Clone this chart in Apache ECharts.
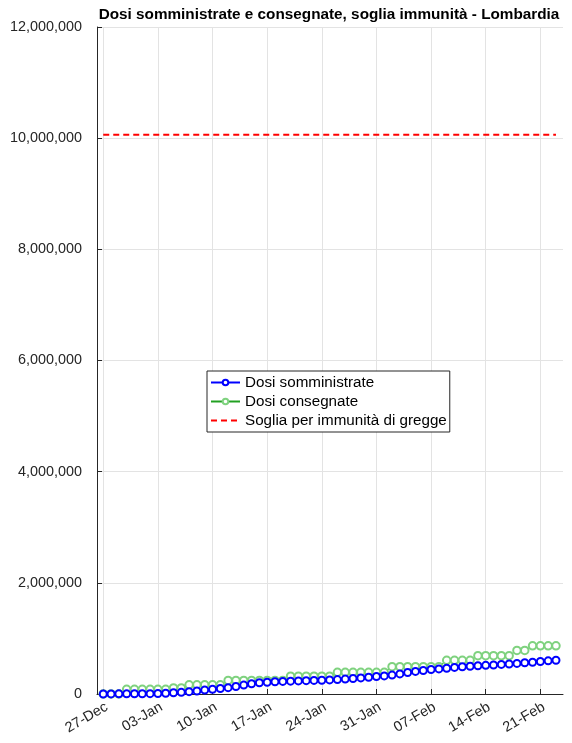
<!DOCTYPE html>
<html><head><meta charset="utf-8">
<script src="https://cdn.jsdelivr.net/npm/echarts@6/dist/echarts.min.js"></script>
<style>html,body{margin:0;padding:0;background:#fff}#c{width:572px;height:743px}</style>
</head><body><div id="c"></div>
<script>
// Day index 0 = 27-Dec-2020
const tickDays = [0, 7, 14, 21, 28, 35, 42, 49, 56];
const tickLabels = ['27-Dec', '03-Jan', '10-Jan', '17-Jan', '24-Jan', '31-Jan', '07-Feb', '14-Feb', '21-Feb'];
const somministrate = [1000,2000,3000,3000,4000,5000,6000,8000,13000,22000,
  30000,42000,54000,70000,84000,98000,114000,134000,160000,184000,
  202000,212000,220000,226000,231000,236000,240000,244000,248000,253000,
  259000,268000,279000,290000,302000,314000,326000,340000,362000,386000,
  406000,422000,440000,452000,464000,478000,490000,500000,508000,515000,
  522000,532000,540000,550000,562000,572000,584000,596000,608000];
const consegnate = [1600,1600,1600,84000,84000,84000,84000,84000,84000,110000,
  110000,165000,165000,165000,165000,165000,245000,245000,245000,245000,
  245000,245000,245000,245000,320000,320000,320000,320000,320000,320000,
  390000,390000,390000,390000,390000,390000,390000,492000,492000,492000,
  492000,492000,492000,492000,606000,606000,606000,606000,690000,690000,
  690000,690000,690000,784000,784000,866000,866000,866000,866000];
const soglia = 10060000;
const seriesNames = ['Dosi somministrate', 'Dosi consegnate', 'Soglia per immunità di gregge'];

const pairs = arr => arr.map((v, i) => [i, v]);
const sogliaData = somministrate.map((_, i) => [i, soglia]);
const FONT = '"Liberation Sans", Arial, Helvetica, sans-serif';
const AX = '#262626';

const chart = echarts.init(document.getElementById('c'), null, {renderer: 'canvas'});
chart.setOption({
  animation: false,
  backgroundColor: '#fff',
  textStyle: {fontFamily: FONT},
  title: {
    text: 'Dosi somministrate e consegnate, soglia immunità - Lombardia',
    left: 324, top: 2, textAlign: 'center',
    textStyle: {fontSize: 15.3, fontWeight: 'bold', color: '#000', fontFamily: FONT}
  },
  grid: {left: 97, right: 9, top: 27, bottom: 49, containLabel: false},
  legend: {
    data: [
      {name: seriesNames[0]},
      {name: seriesNames[1]},
      {name: seriesNames[2], itemStyle: {opacity: 0}}
    ],
    orient: 'vertical',
    left: 207, top: 371,
    backgroundColor: '#fff',
    borderColor: AX, borderWidth: 1,
    padding: [4, 3, 4, 3],
    itemGap: 4,
    itemWidth: 29, itemHeight: 7,
    textStyle: {fontSize: 15.2, color: '#000', fontFamily: FONT}
  },
  xAxis: {
    type: 'value',
    min: -0.8, max: 58.9,
    axisLine: {show: true, onZero: false, lineStyle: {color: AX, width: 1}},
    axisTick: {show: true, inside: true, length: 5, customValues: tickDays, lineStyle: {color: AX}},
    axisLabel: {
      customValues: tickDays,
      formatter: v => tickLabels[tickDays.indexOf(Math.round(v))] || '',
      rotate: 30, fontSize: 14.4, color: AX, margin: 6, fontFamily: FONT,
      verticalAlign: 'top'
    },
    splitLine: {show: true, lineStyle: {color: '#e3e3e3', width: 1}}
  },
  yAxis: {
    type: 'value',
    min: 0, max: 12000000, interval: 2000000,
    axisLine: {show: true, onZero: false, lineStyle: {color: AX, width: 1}},
    axisTick: {show: true, inside: true, length: 5, lineStyle: {color: AX}},
    axisLabel: {
      fontSize: 14.4, color: AX, margin: 15, fontFamily: FONT,
      formatter: v => v.toLocaleString('en-US')
    },
    splitLine: {show: true, lineStyle: {color: '#e3e3e3', width: 1}}
  },
  series: [
    {
      name: seriesNames[0], type: 'line', data: pairs(somministrate), z: 4,
      symbol: 'emptyCircle', symbolSize: 7, showAllSymbol: true,
      itemStyle: {color: '#0000ff', borderColor: '#0000ff', borderWidth: 2},
      lineStyle: {color: '#0000ff', width: 2}
    },
    {
      name: seriesNames[1], type: 'line', data: pairs(consegnate), z: 3,
      symbol: 'emptyCircle', symbolSize: 7.5, showAllSymbol: true,
      itemStyle: {color: '#7fd27f', borderColor: '#7fd27f', borderWidth: 1},
      lineStyle: {color: '#22a022', width: 1}
    },
    {
      name: seriesNames[2], type: 'line', data: sogliaData, z: 2,
      symbol: 'none',
      itemStyle: {color: '#ff0000'},
      lineStyle: {color: '#ff0000', width: 2, type: [6, 4]}
    }
  ]
});
</script></body></html>
